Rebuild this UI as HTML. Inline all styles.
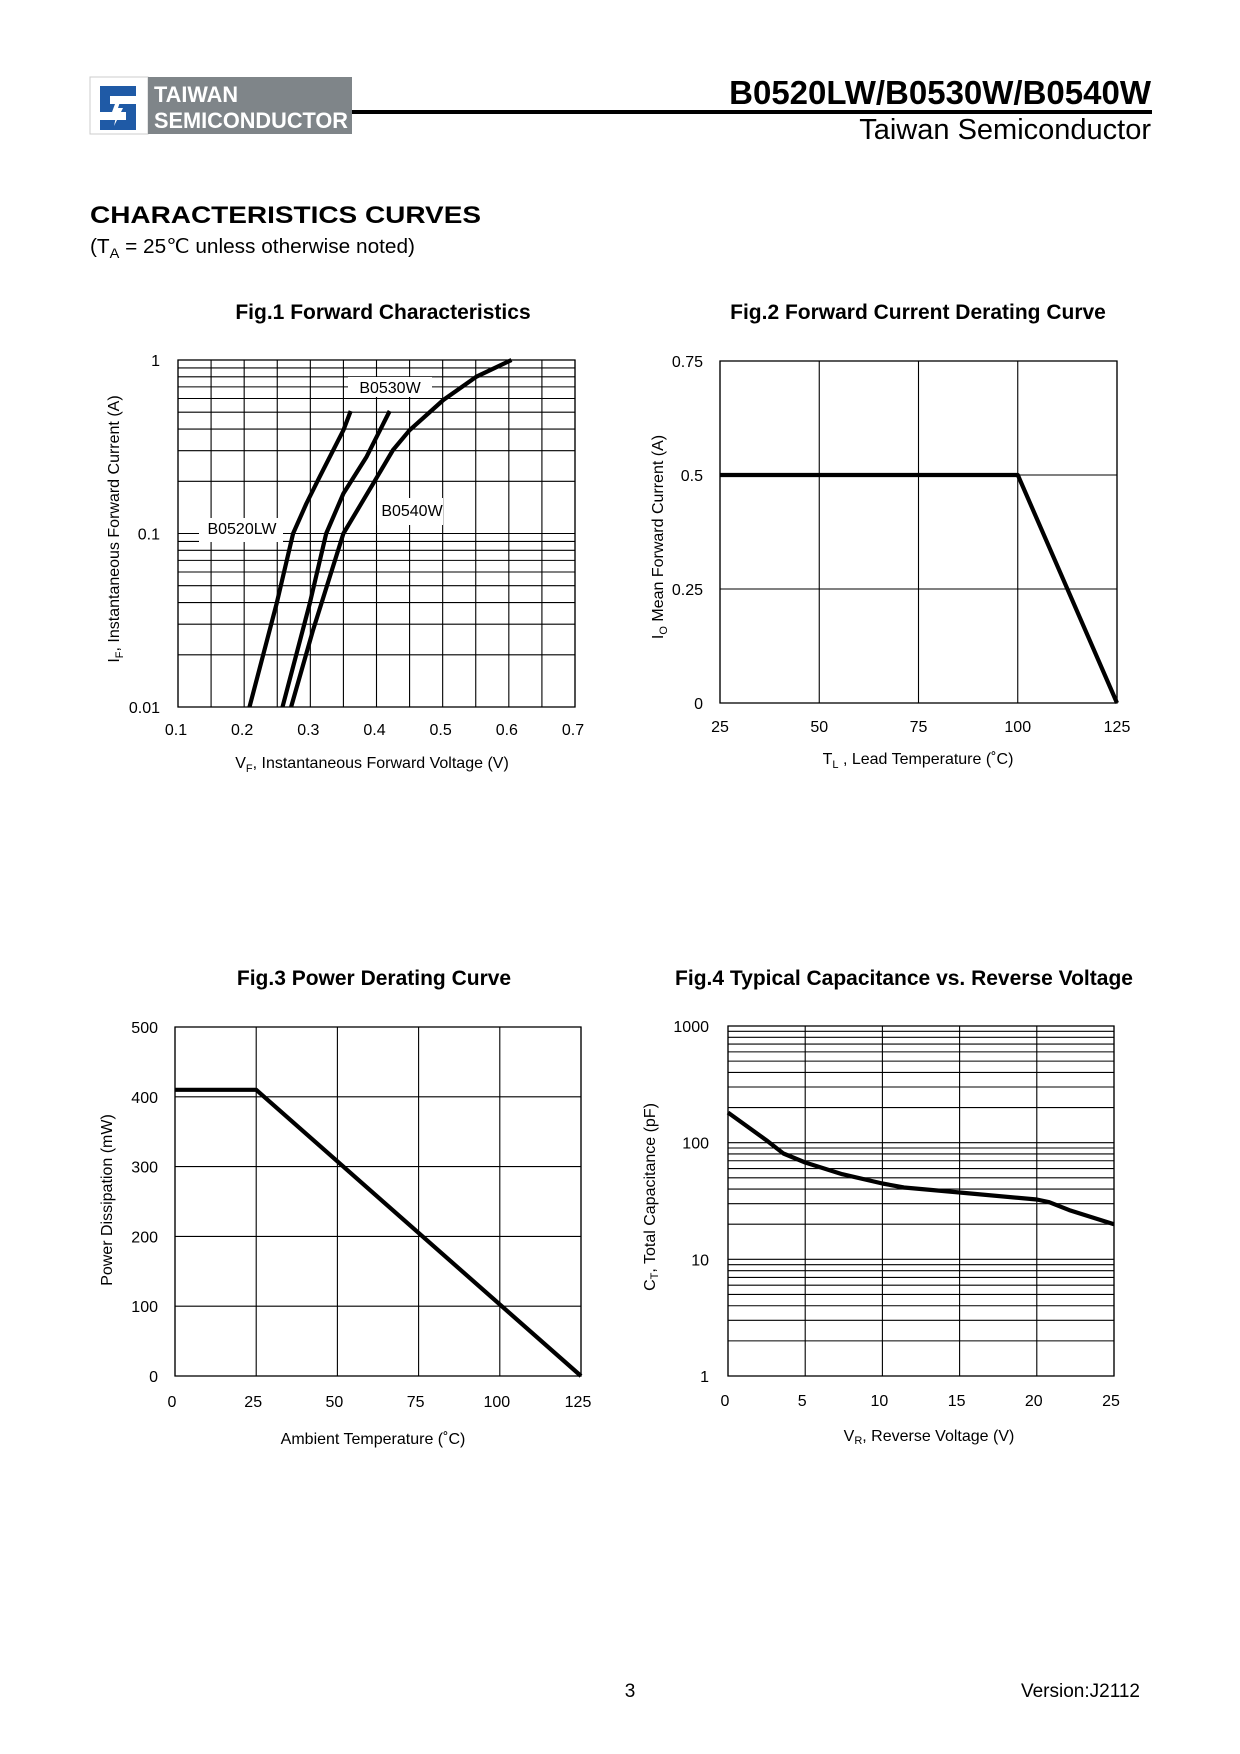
<!DOCTYPE html>
<html><head><meta charset="utf-8"><style>
html,body{margin:0;padding:0;background:#fff;}
svg{display:block;font-family:"Liberation Sans",Arial,sans-serif;}
</style></head><body>
<svg id="page" width="1240" height="1754" viewBox="0 0 1240 1754" xmlns="http://www.w3.org/2000/svg">
<g>
  <rect x="90" y="77" width="58" height="57" fill="#fff" stroke="#ccc" stroke-width="1"/>
  <path d="M100 86 h36 v10 h-26 v8 h26 v26 h-36 v-10 h26 v-8 h-26z" fill="#1f5aa6"/>
  <path d="M118 96 l-6 16 h5 l-3 14 l9 -18 h-5 l4 -12z" fill="#fff"/>
  <rect x="148" y="77" width="204" height="57" fill="#7f8589"/>
  <text x="154" y="102" font-size="22" font-weight="bold" fill="#fff" textLength="84" lengthAdjust="spacingAndGlyphs">TAIWAN</text>
  <text x="154" y="128" font-size="22" font-weight="bold" fill="#fff" textLength="194" lengthAdjust="spacingAndGlyphs">SEMICONDUCTOR</text>
  <rect x="352" y="110" width="800" height="4" fill="#000"/>
  <text x="1151" y="104" font-size="33" font-weight="bold" text-anchor="end">B0520LW/B0530W/B0540W</text>
  <text x="1151" y="139" font-size="29" text-anchor="end">Taiwan Semiconductor</text>
</g>
<text x="90" y="223" font-size="24" font-weight="bold" textLength="391" lengthAdjust="spacingAndGlyphs">CHARACTERISTICS CURVES</text>
<text x="90" y="253" font-size="20" textLength="325" lengthAdjust="spacingAndGlyphs">(T<tspan font-size="14" dy="5">A</tspan><tspan dy="-5"> = 25℃ unless otherwise noted)</tspan></text>

<g id="fig1"></g>
<g id="fig2"></g>
<g id="fig3"></g>
<g id="fig4"></g>

<text x="630" y="1697" font-size="19" text-anchor="middle">3</text>
<text x="1140" y="1697" font-size="19" text-anchor="end">Version:J2112</text>
</svg>
<script>
// Fig.1 data
const f1XTicks = [0.1,0.2,0.3,0.4,0.5,0.6,0.7];
const f1YTicks = [0.01,0.1,1];
const f1YTickLabels = ["0.01","0.1","1"];
const b0520V = [0.208,0.249,0.274,0.294,0.314,0.350,0.361];
const b0520I = [0.01,0.0394,0.1,0.149,0.212,0.394,0.508];
const b0530V = [0.258,0.299,0.324,0.350,0.385,0.420];
const b0530I = [0.01,0.0394,0.1,0.170,0.277,0.508];
const b0540V = [0.271,0.304,0.350,0.395,0.425,0.450,0.501,0.551,0.604];
const b0540I = [0.01,0.0277,0.1,0.194,0.303,0.394,0.588,0.801,1.0];
// Fig.2 data
const f2XTicks = [25,50,75,100,125];
const f2YTicks = [0,0.25,0.5,0.75];
const f2YTickLabels = ["0","0.25","0.5","0.75"];
const f2Temp = [25,100,125];
const f2Current = [0.5,0.5,0];
// Fig.3 data
const f3XTicks = [0,25,50,75,100,125];
const f3YTicks = [0,100,200,300,400,500];
const f3Temp = [0,25,125];
const f3Power = [410,410,0];
// Fig.4 data
const f4XTicks = [0,5,10,15,20,25];
const f4YTicks = [1,10,100,1000];
const f4Volt = [0,2.48,3.59,5,7.4,10,11.4,15,20,20.8,22.1,25];
const f4Cap = [181,105,80.7,67.6,53.7,44.7,41.3,37.4,32.6,30.9,26.4,20.0];

const NS="http://www.w3.org/2000/svg";
function mk(parent,tag,attrs,text){const e=document.createElementNS(NS,tag);for(const k in attrs)e.setAttribute(k,attrs[k]);if(text!==undefined)e.textContent=text;parent.appendChild(e);return e;}
function linScale(d0,d1,r0,r1){return v=>r0+(v-d0)/(d1-d0)*(r1-r0);}
function logScale(d0,d1,r0,r1){return v=>r0+(Math.log10(v)-Math.log10(d0))/(Math.log10(d1)-Math.log10(d0))*(r1-r0);}

function frame(g,L,T,R,B){
  const r=mk(g,'rect',{x:L,y:T,width:R-L,height:B-T,fill:'none',stroke:'#000','stroke-width':1.3});
  
  
}
function gl(g,x1,y1,x2,y2,name){
  const l=mk(g,'line',{x1:x1,y1:y1,x2:x2,y2:y2,stroke:'#000','stroke-width':1.1});
  
  
}
function txt(g,x,y,s,size,anchor,name,extra){
  const t=mk(g,'text',Object.assign({x:x,y:y,'font-size':size,'text-anchor':anchor},extra||{}),s);
  
  
  return t;
}
function curve(g,xs,ys,sx,sy,name){
  const pts=xs.map((v,i)=>sx(v).toFixed(1)+','+sy(ys[i]).toFixed(1)).join(' ');
  const p=mk(g,'polyline',{points:pts,fill:'none',stroke:'#000','stroke-width':4.2,'stroke-linejoin':'round'});
  
  
}
function logMinors(lo,hi){const a=[];for(let d=lo;d<hi;d*=10){for(let k=1;k<10;k++)a.push(d*k);}a.push(hi);return a;}

// Fig 1
(function(){
  const g=document.getElementById('fig1');
  const L=178,R=575,T=360,B=707;
  const sx=linScale(0.1,0.7,L,R), sy=logScale(0.01,1,B,T);
  txt(g,383,319,'Fig.1 Forward Characteristics',21,'middle','fig1-title',{'font-weight':'bold'});
  for(let v=0.1;v<=0.7001;v+=0.05) gl(g,sx(v),T,sx(v),B,'fig1-vgrid');
  logMinors(0.01,1).forEach(v=>gl(g,L,sy(v),R,sy(v),'fig1-hgrid'));
  frame(g,L,T,R,B);
  f1XTicks.forEach(v=>txt(g,sx(v)-2,735,v.toFixed(1),16,'middle','fig1-x-tick'));
  f1YTicks.forEach((v,i)=>txt(g,160,sy(v)+6,f1YTickLabels[i],16,'end','fig1-y-tick'));
  const xt=txt(g,372,768,'',16,'middle','fig1-x-axis-title');
  xt.innerHTML='V<tspan font-size="11" dy="4">F</tspan><tspan dy="-4">, Instantaneous Forward Voltage (V)</tspan>';
  const yt=txt(g,0,0,'',16,'middle','fig1-y-axis-title',{transform:'translate(119,529) rotate(-90)'});
  yt.innerHTML='I<tspan font-size="11" dy="4">F</tspan><tspan dy="-4">, Instantaneous Forward Current (A)</tspan>';
  [[348,377,84,20,390,393,'B0530W','label-b0530w'],[199,518,84,24,242,534,'B0520LW','label-b0520lw'],[377,498,66,27,412,516,'B0540W','label-b0540w']].forEach(b=>{
    const r=mk(g,'rect',{x:b[0],y:b[1],width:b[2],height:b[3],fill:'#fff'});
    
    
    txt(g,b[4],b[5],b[6],16,'middle',b[7]);
  });
  curve(g,b0520V,b0520I,sx,sy,'curve-b0520lw');
  curve(g,b0530V,b0530I,sx,sy,'curve-b0530w');
  curve(g,b0540V,b0540I,sx,sy,'curve-b0540w');
})();

// Fig 2
(function(){
  const g=document.getElementById('fig2');
  const L=720,R=1117,T=361,B=703;
  const sx=linScale(25,125,L,R), sy=linScale(0,0.75,B,T);
  txt(g,918,319,'Fig.2 Forward Current Derating Curve',21,'middle','fig2-title',{'font-weight':'bold'});
  f2XTicks.forEach(v=>gl(g,sx(v),T,sx(v),B,'fig2-vgrid'));
  f2YTicks.forEach(v=>gl(g,L,sy(v),R,sy(v),'fig2-hgrid'));
  frame(g,L,T,R,B);
  f2XTicks.forEach(v=>txt(g,sx(v),732,String(v),16,'middle','fig2-x-tick'));
  f2YTicks.forEach((v,i)=>txt(g,703,sy(v)+6,f2YTickLabels[i],16,'end','fig2-y-tick'));
  const xt=txt(g,918,764,'',16,'middle','fig2-x-axis-title');
  xt.innerHTML='T<tspan font-size="11" dy="4">L</tspan><tspan dy="-4"> , Lead Temperature (˚C)</tspan>';
  const yt=txt(g,0,0,'',16,'middle','fig2-y-axis-title',{transform:'translate(663,537) rotate(-90)'});
  yt.innerHTML='I<tspan font-size="11" dy="4">O</tspan><tspan dy="-4"> Mean Forward Current (A)</tspan>';
  curve(g,f2Temp,f2Current,sx,sy,'curve-io-derating');
})();

// Fig 3
(function(){
  const g=document.getElementById('fig3');
  const L=175,R=581,T=1027,B=1376;
  const sx=linScale(0,125,L,R), sy=linScale(0,500,B,T);
  txt(g,374,985,'Fig.3  Power Derating Curve',21,'middle','fig3-title',{'font-weight':'bold'});
  f3XTicks.forEach(v=>gl(g,sx(v),T,sx(v),B,'fig3-vgrid'));
  f3YTicks.forEach(v=>gl(g,L,sy(v),R,sy(v),'fig3-hgrid'));
  frame(g,L,T,R,B);
  f3XTicks.forEach(v=>txt(g,sx(v)-3,1407,String(v),16,'middle','fig3-x-tick'));
  f3YTicks.forEach(v=>txt(g,158,sy(v)+6,String(v),16,'end','fig3-y-tick'));
  txt(g,373,1444,'Ambient Temperature (˚C)',16,'middle','fig3-x-axis-title');
  txt(g,0,0,'Power Dissipation (mW)',16,'middle','fig3-y-axis-title',{transform:'translate(112,1200) rotate(-90)'});
  curve(g,f3Temp,f3Power,sx,sy,'curve-power-derating');
})();

// Fig 4
(function(){
  const g=document.getElementById('fig4');
  const L=728,R=1114,T=1026,B=1376;
  const sx=linScale(0,25,L,R), sy=logScale(1,1000,B,T);
  txt(g,904,985,'Fig.4 Typical Capacitance vs. Reverse Voltage',21,'middle','fig4-title',{'font-weight':'bold'});
  f4XTicks.forEach(v=>gl(g,sx(v),T,sx(v),B,'fig4-vgrid'));
  logMinors(1,1000).forEach(v=>gl(g,L,sy(v),R,sy(v),'fig4-hgrid'));
  frame(g,L,T,R,B);
  f4XTicks.forEach(v=>txt(g,sx(v)-3,1406,String(v),16,'middle','fig4-x-tick'));
  f4YTicks.forEach(v=>txt(g,709,sy(v)+6,String(v),16,'end','fig4-y-tick'));
  const xt=txt(g,929,1441,'',16,'middle','fig4-x-axis-title');
  xt.innerHTML='V<tspan font-size="11" dy="3">R</tspan><tspan dy="-3">, Reverse Voltage (V)</tspan>';
  const yt=txt(g,0,0,'',16,'middle','fig4-y-axis-title',{transform:'translate(655,1197) rotate(-90)'});
  yt.innerHTML='C<tspan font-size="11" dy="3">T</tspan><tspan dy="-3">,  Total Capacitance (pF)</tspan>';
  curve(g,f4Volt,f4Cap,sx,sy,'curve-capacitance');
})();
</script>
</body></html>
